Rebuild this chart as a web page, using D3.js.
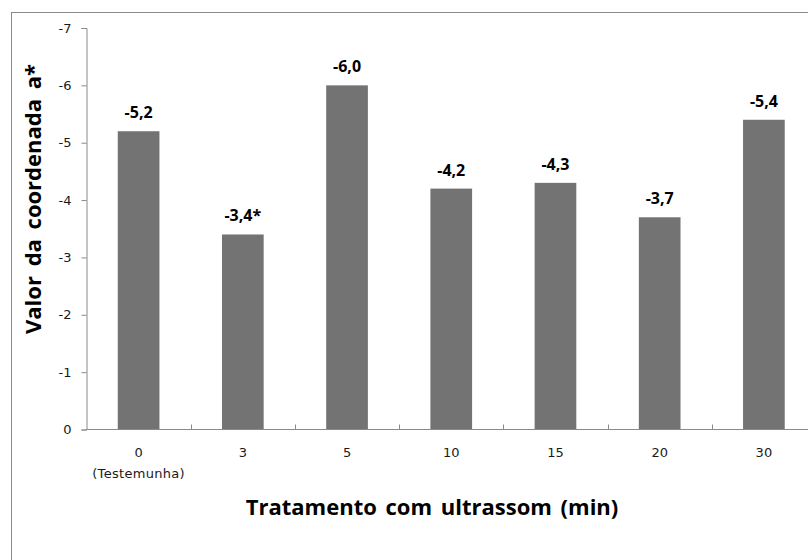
<!DOCTYPE html>
<html>
<head>
<meta charset="utf-8">
<script src="https://cdn.jsdelivr.net/npm/d3@7/dist/d3.min.js"></script>
<style>
  html, body { margin: 0; padding: 0; background: #fff; }
  svg { display: block; }
</style>
</head>
<body>
<svg id="chart" width="808" height="560"></svg>
<script>
const categories = ["0", "3", "5", "10", "15", "20", "30"];
const subLabels = ["(Testemunha)", "", "", "", "", "", ""];
const values = [-5.2, -3.4, -6.0, -4.2, -4.3, -3.7, -5.4];
const valueLabels = ["-5,2", "-3,4*", "-6,0", "-4,2", "-4,3", "-3,7", "-5,4"];
const yTicks = [0, -1, -2, -3, -4, -5, -6, -7];
const xTitle = "Tratamento com ultrassom (min)";
const yTitle = "Valor da coordenada a*";

const svg = d3.select("#chart");

// outer frame
svg.append("rect")
  .attr("x", 11.5).attr("y", 12.5)
  .attr("width", 820).attr("height", 600)
  .attr("fill", "none").attr("stroke", "#8a8a8a").attr("stroke-width", 1);

const plot = { left: 86.5, right: 816, top: 28, bottom: 429.5 };

const x = d3.scaleBand()
  .domain(categories)
  .range([plot.left, plot.right])
  .paddingInner(0.6)
  .paddingOuter(0.3);

const y = d3.scaleLinear()
  .domain([0, -7])
  .range([plot.bottom, plot.top]);

const tickFont = "'DejaVu Sans', Verdana, sans-serif";
const boldFont = "'Open Sans', Lato, sans-serif";

// bars
svg.append("g").selectAll("rect")
  .data(values)
  .join("rect")
  .attr("x", (d, i) => x(categories[i]))
  .attr("width", x.bandwidth())
  .attr("y", d => y(d))
  .attr("height", d => y(0) - y(d))
  .attr("fill", "#737373");

// y axis
const yAxis = d3.axisLeft(y)
  .tickValues(yTicks)
  .tickFormat(d => d3.format("d")(d).replace("−", "-"))
  .tickSize(5)
  .tickPadding(10);
const gy = svg.append("g")
  .attr("transform", `translate(${plot.left},0)`)
  .call(yAxis);
gy.select(".domain").attr("stroke", "#8a8a8a");
gy.selectAll(".tick line").attr("stroke", "#8a8a8a");
gy.selectAll(".tick text")
  .attr("font-family", tickFont).attr("font-size", 13).attr("fill", "#1a1a1a");

// x axis line
svg.append("line")
  .attr("x1", plot.left).attr("x2", plot.right)
  .attr("y1", plot.bottom).attr("y2", plot.bottom)
  .attr("stroke", "#8a8a8a");

// x category tick marks (inside, between categories)
const step = x.step();
svg.append("g").selectAll("line")
  .data(categories.slice(1))
  .join("line")
  .attr("x1", c => Math.round(x(c) - (step - x.bandwidth()) / 2) + 0.5)
  .attr("x2", c => Math.round(x(c) - (step - x.bandwidth()) / 2) + 0.5)
  .attr("y1", plot.bottom)
  .attr("y2", plot.bottom - 5)
  .attr("stroke", "#8a8a8a");

// x category labels
const xl = svg.append("g");
xl.selectAll("text.cat")
  .data(categories)
  .join("text")
  .attr("class", "cat")
  .attr("x", c => x(c) + x.bandwidth() / 2)
  .attr("y", 457)
  .attr("text-anchor", "middle")
  .attr("font-family", tickFont).attr("font-size", 13).attr("fill", "#1a1a1a")
  .text(c => c);
xl.selectAll("text.sub")
  .data(categories)
  .join("text")
  .attr("class", "sub")
  .attr("x", c => x(c) + x.bandwidth() / 2)
  .attr("y", 478)
  .attr("text-anchor", "middle")
  .attr("font-family", tickFont).attr("font-size", 13).attr("fill", "#1a1a1a")
  .attr("letter-spacing", 0.3)
  .text((c, i) => subLabels[i]);

// value labels
svg.append("g").selectAll("text")
  .data(values)
  .join("text")
  .attr("x", (d, i) => x(categories[i]) + x.bandwidth() / 2)
  .attr("y", d => y(d) - 13)
  .attr("text-anchor", "middle")
  .attr("font-family", boldFont).attr("font-weight", "bold")
  .attr("font-size", 16).attr("fill", "#000")
  .text((d, i) => valueLabels[i]);

// axis titles
svg.append("text")
  .attr("x", 432).attr("y", 515)
  .attr("text-anchor", "middle")
  .attr("font-family", boldFont).attr("font-weight", "bold")
  .attr("font-size", 22).attr("fill", "#000")
  .attr("word-spacing", 3)
  .text(xTitle);

svg.append("text")
  .attr("transform", "translate(41,199) rotate(-90)")
  .attr("text-anchor", "middle")
  .attr("font-family", boldFont).attr("font-weight", "bold")
  .attr("font-size", 22).attr("fill", "#000")
  .attr("word-spacing", 4)
  .text(yTitle);
</script>
</body>
</html>
